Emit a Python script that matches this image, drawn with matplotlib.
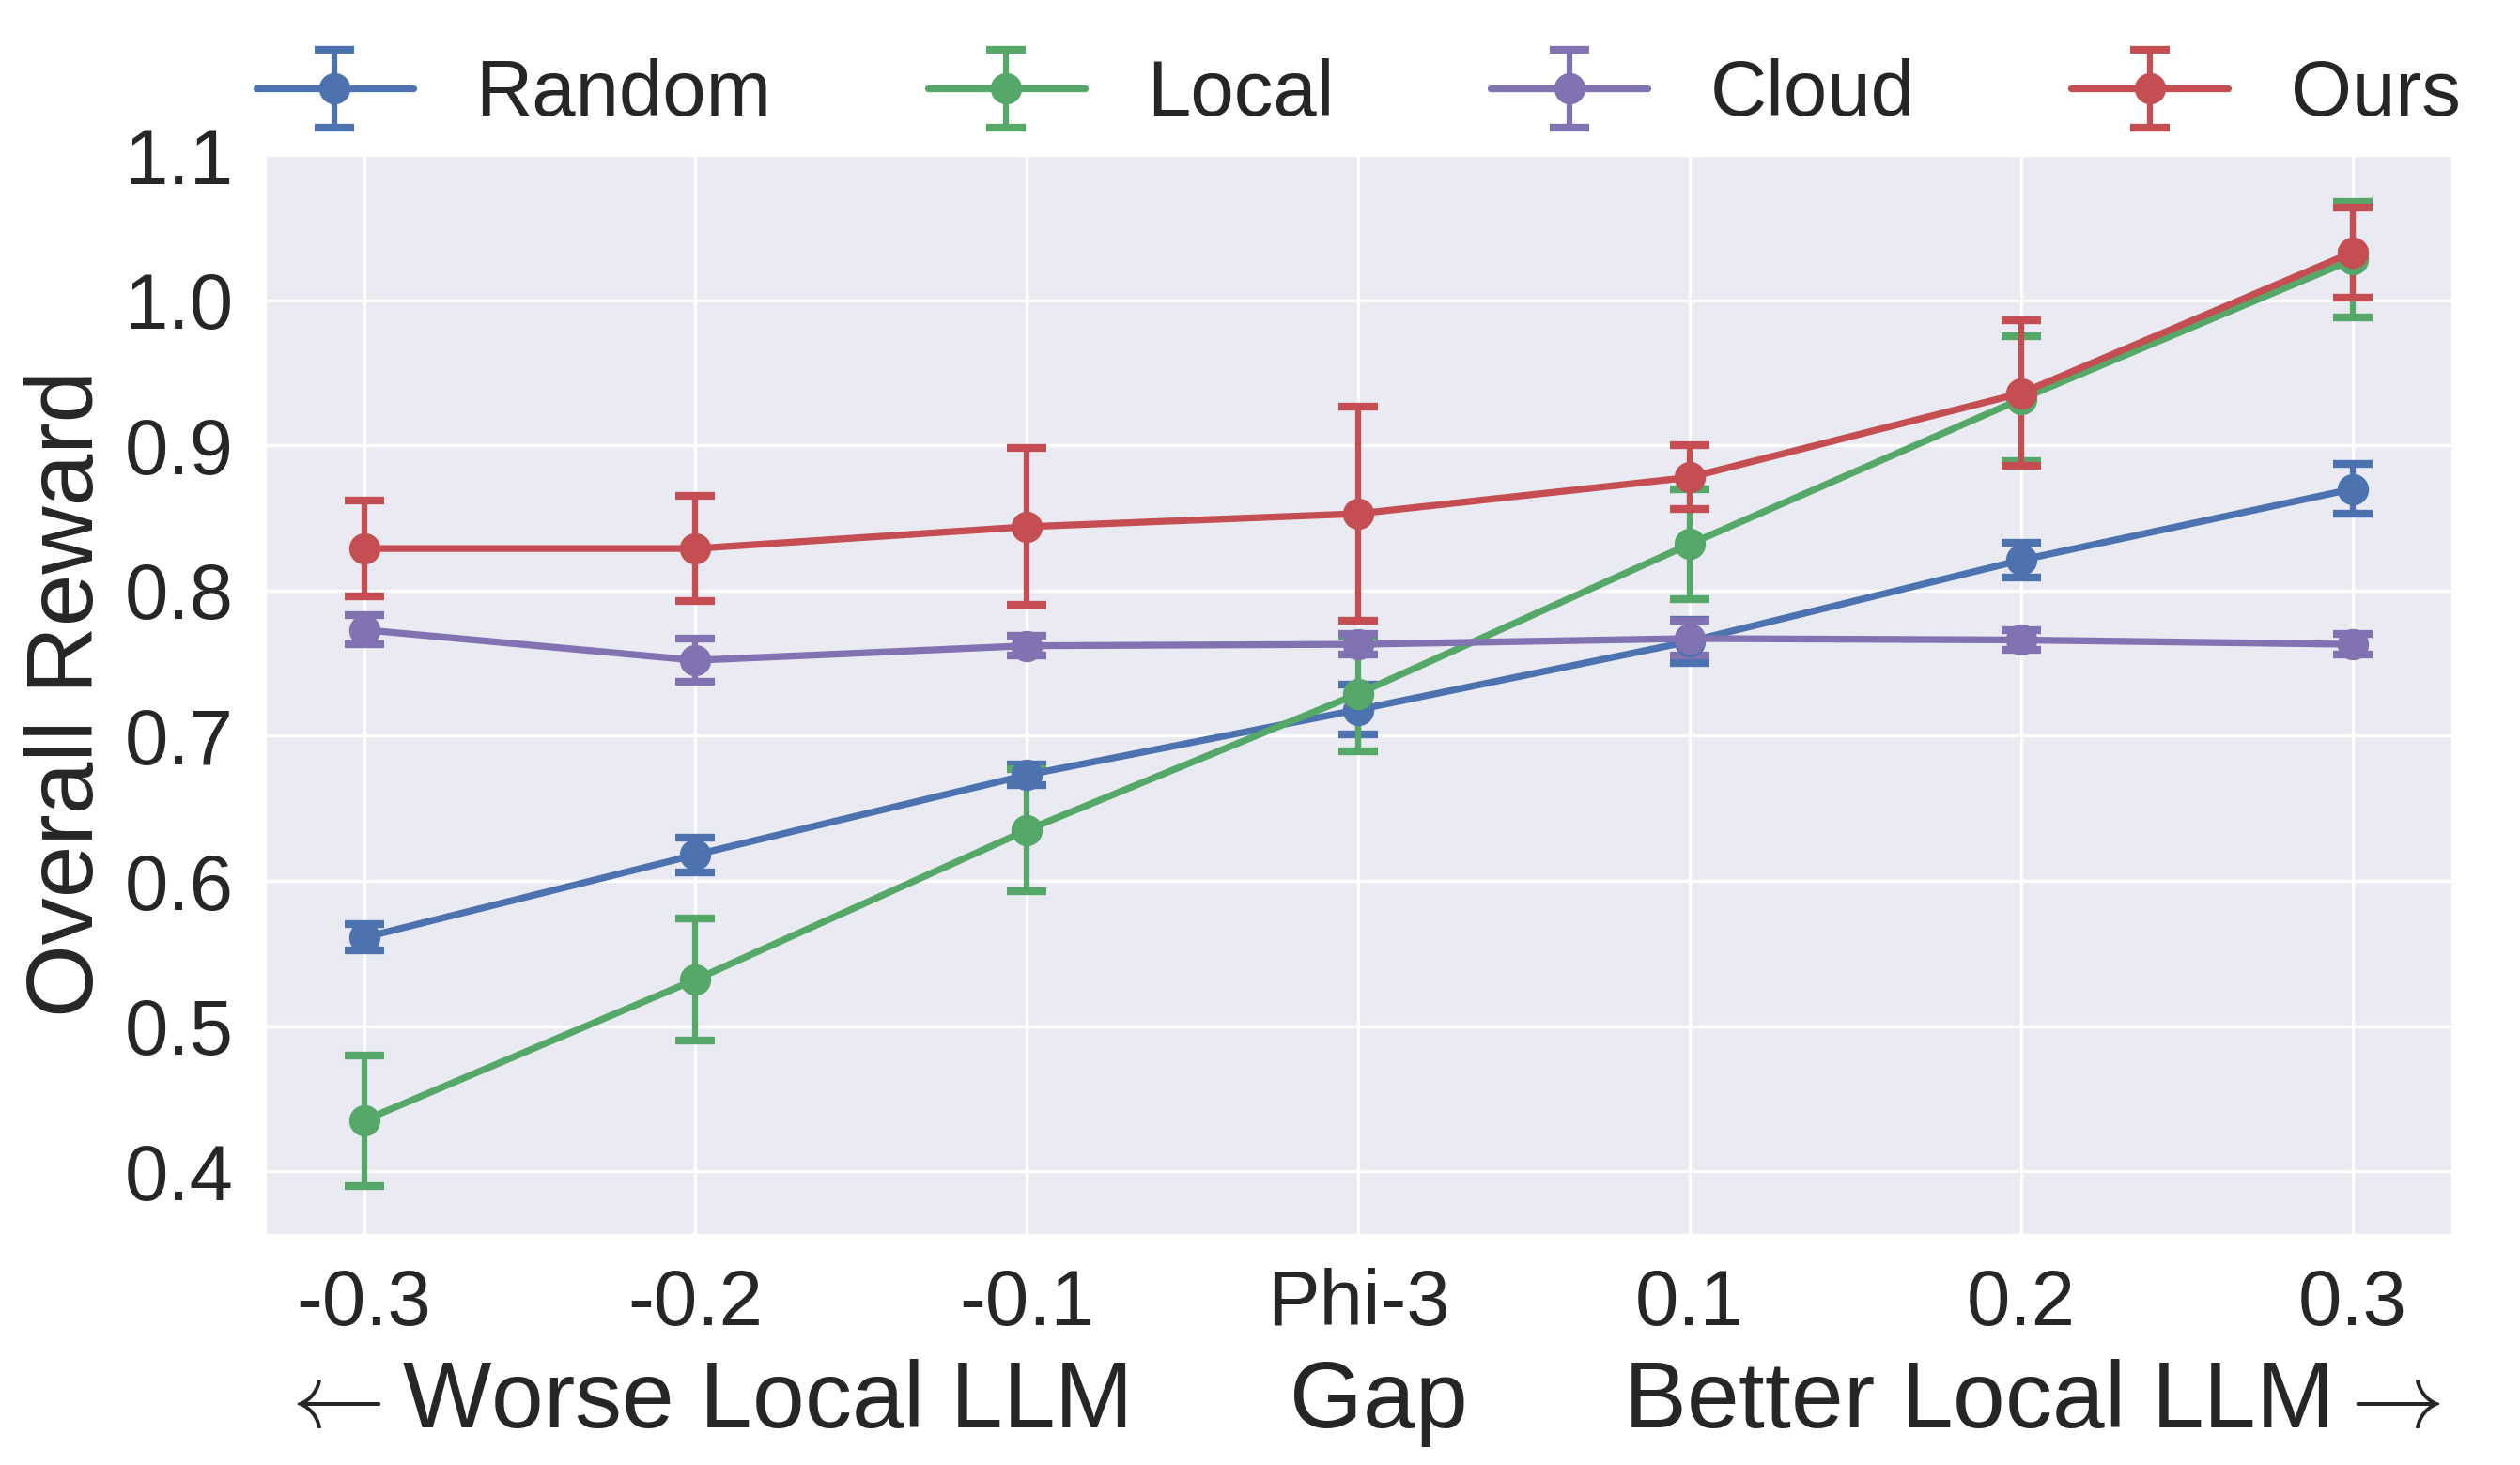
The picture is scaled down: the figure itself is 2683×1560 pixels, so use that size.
import numpy as np
import matplotlib
matplotlib.use("Agg")
import matplotlib.pyplot as plt
import seaborn as sns

# values
gap_labels = ["-0.3", "-0.2", "-0.1", "Phi-3", "0.1", "0.2", "0.3"]

random_mean = [0.561, 0.618, 0.673, 0.718, 0.765, 0.821, 0.870]
random_err = [0.009, 0.012, 0.007, 0.017, 0.015, 0.012, 0.017]

local_mean = [0.435, 0.532, 0.635, 0.729, 0.832, 0.932, 1.028]
local_err = [0.045, 0.042, 0.042, 0.040, 0.038, 0.043, 0.040]

cloud_mean = [0.773, 0.752, 0.762, 0.763, 0.767, 0.766, 0.763]
cloud_err = [0.010, 0.015, 0.007, 0.007, 0.012, 0.007, 0.007]

ours_mean = [0.829, 0.829, 0.844, 0.853, 0.878, 0.936, 1.033]
ours_err = [0.033, 0.036, 0.054, 0.074, 0.022, 0.050, 0.031]

y_ticks = [0.4, 0.5, 0.6, 0.7, 0.8, 0.9, 1.0, 1.1]

sns.set_style("darkgrid")
plt.rcParams['font.family'] = ['Liberation Sans', 'DejaVu Sans']

fig = plt.figure(figsize=(2683 / 300, 1560 / 300), dpi=300)
ax = fig.add_axes([0.105, 0.157, 0.868, 0.739])

x = np.arange(len(gap_labels))
series = [
    ("Random", random_mean, random_err, "#4C72B0"),
    ("Local", local_mean, local_err, "#55A868"),
    ("Cloud", cloud_mean, cloud_err, "#8172B2"),
    ("Ours", ours_mean, ours_err, "#C44E52"),
]
for name, mean, err, color in series:
    ax.errorbar(x, mean, yerr=err, label=name, color=color, marker="o",
                markersize=7, linewidth=1.75, elinewidth=1.5, capsize=5,
                capthick=2)

ax.set_xticks(x)
ax.set_xticklabels(gap_labels)
ax.set_yticks(y_ticks)
ax.set_yticklabels([f"{t:.1f}" for t in y_ticks])
ax.tick_params(axis="both", labelsize=20, colors="#262626")
ax.tick_params(axis="y", pad=4.5)
ax.tick_params(axis="x", pad=5)
ax.set_ylabel("Overall Reward", fontsize=24, color="#262626", labelpad=3)
ax.set_xlabel(r"$\leftarrow$Worse Local LLM      Gap      Better Local LLM$\rightarrow$",
              fontsize=24, color="#262626", math_fontfamily="cm")

ax.legend(loc="lower center", bbox_to_anchor=(0.5, 0.99), ncol=4,
          frameon=False, fontsize=20, borderaxespad=0.0)

fig.savefig("out.png", dpi=300)
